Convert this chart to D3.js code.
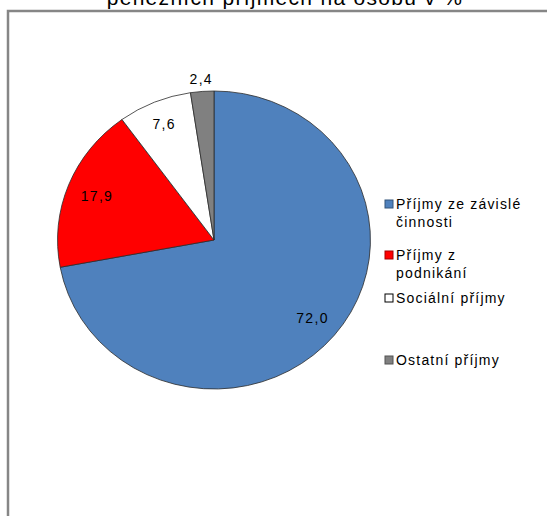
<!DOCTYPE html>
<html>
<head>
<meta charset="utf-8">
<script src="https://cdn.jsdelivr.net/npm/d3@7"></script>
<style>
  body { margin: 0; background: #fff; }
  svg { display: block; font-family: "Liberation Sans", Arial, sans-serif; }
</style>
</head>
<body>
<svg id="chart" width="547" height="516"></svg>
<script>
// Chart data
const categories = ["Příjmy ze závislé činnosti", "Příjmy z podnikání", "Sociální příjmy", "Ostatní příjmy"];
const legendLines = [["Příjmy ze závislé", "činnosti"], ["Příjmy z", "podnikání"], ["Sociální příjmy"], ["Ostatní příjmy"]];
const values = [72.0, 17.9, 7.6, 2.4];
const labels = ["72,0", "17,9", "7,6", "2,4"];
const colors = ["#4F81BD", "#FF0000", "#FFFFFF", "#808080"];
const titleText = "peněžních příjmech na osobu v %";

const svg = d3.select("#chart");

// Chart area border (extends beyond the visible frame)
svg.append("rect")
  .attr("x", 8).attr("y", 11)
  .attr("width", 700).attr("height", 700)
  .attr("fill", "#fff")
  .attr("stroke", "#868686")
  .attr("stroke-width", 2.5);

// Title (only the lower line is visible)
svg.append("text")
  .attr("x", 285).attr("y", 5)
  .attr("text-anchor", "middle")
  .attr("font-size", 21)
  .attr("letter-spacing", 1.3)
  .attr("fill", "#000")
  .text(titleText);

// Pie
const cx = 214, cy = 240, r = 149;
const sx = 1.05; // slight horizontal stretch as in the original

const pie = d3.pie().sort(null).value((d) => d);
const arcs = pie(values);
const arc = d3.arc().innerRadius(0).outerRadius(r);

const g = svg.append("g").attr("transform", `translate(${cx},${cy}) scale(${sx},1)`);

g.selectAll("path")
  .data(arcs)
  .enter()
  .append("path")
  .attr("d", arc)
  .attr("fill", (d, i) => colors[i])
  .attr("stroke", "#2b2b2b")
  .attr("stroke-width", 0.8)
  .attr("vector-effect", "non-scaling-stroke");

// Data labels: inside at ~0.82 r, smallest slice outside
const labelR = [122, 120, 125, 161];
svg.append("g")
  .selectAll("text")
  .data(arcs)
  .enter()
  .append("text")
  .attr("x", (d, i) => cx + d3.arc().innerRadius(labelR[i]).outerRadius(labelR[i]).centroid(d)[0] * sx)
  .attr("y", (d, i) => cy + d3.arc().innerRadius(labelR[i]).outerRadius(labelR[i]).centroid(d)[1] + 5)
  .attr("text-anchor", "middle")
  .attr("font-size", 14)
  .attr("letter-spacing", 1.3)
  .attr("fill", "#000")
  .text((d, i) => labels[i]);

// Legend
const legendY = [209, 260, 303, 365];
const legend = svg.append("g").attr("transform", "translate(385,0)");
const items = legend.selectAll("g")
  .data(categories)
  .enter()
  .append("g")
  .attr("transform", (d, i) => `translate(0,${legendY[i]})`);

items.append("rect")
  .attr("x", 0).attr("y", -9)
  .attr("width", 8).attr("height", 8)
  .attr("fill", (d, i) => colors[i])
  .attr("stroke", (d, i) => i === 2 ? "#000" : d3.color(colors[i]).darker(1.2))
  .attr("stroke-width", 1);

items.append("text")
  .attr("x", 11)
  .attr("font-size", 14)
  .attr("letter-spacing", 1.2)
  .attr("fill", "#000")
  .selectAll("tspan")
  .data((d, i) => legendLines[i])
  .enter()
  .append("tspan")
  .attr("x", 11)
  .attr("dy", (d, j) => j === 0 ? 0 : 18)
  .text((d) => d);
</script>
</body>
</html>
